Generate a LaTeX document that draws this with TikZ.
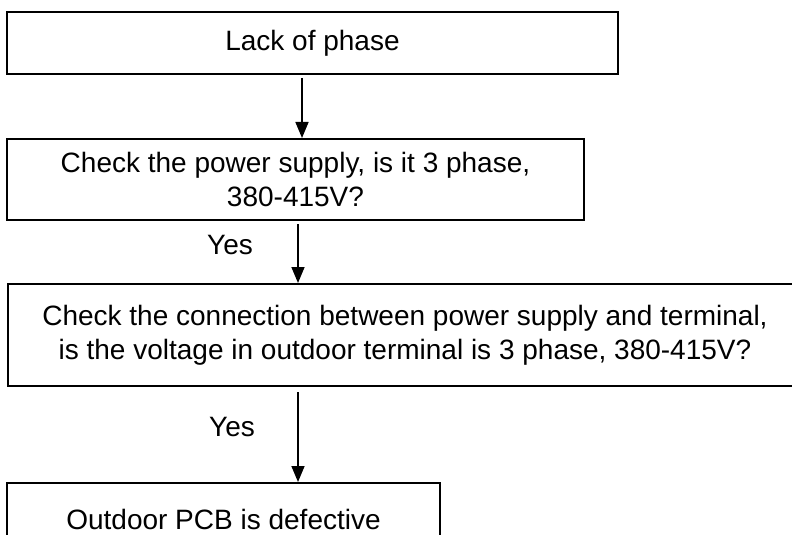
\documentclass[tikz,border=0pt]{standalone}
\usepackage{fontspec}
\setmainfont{Liberation Sans}
\usetikzlibrary{arrows.meta, calc}

\begin{document}
\begin{tikzpicture}[x=0.5pt, y=-0.5pt,
	flowbox/.style={draw=black, line width=1pt, align=center, inner sep=0pt,
		font=\fontsize{14}{17}\selectfont},
	flowarrow/.style={line width=0.8pt, shorten <=1.5pt,
		-{Triangle[width=6.5pt, length=8pt]}},
	answer/.style={font=\fontsize{14}{17}\selectfont}]

	\useasboundingbox (0,0) rectangle (792,535);

	% x of the two arrow lines
	\coordinate (ax1) at (302,0);
	\coordinate (ax2) at (298,0);

	\node[flowbox, minimum width=305.5pt, minimum height=31pt] (lack) at (312.5,43) {Lack of phase};
	\node[flowbox, minimum width=288.5pt, minimum height=40.5pt] (supply) at (295.5,179.5)
		{Check the power supply, is it 3 phase,\\380-415V?};
	\node[flowbox, minimum width=397pt, minimum height=51pt] (terminal) at (405,335)
		{Check the connection between power supply and terminal,\\is the voltage in outdoor terminal is 3 phase, 380-415V?};
	\node[flowbox, minimum width=216.5pt, minimum height=36pt] (pcb) at (223.5,519) {Outdoor PCB is defective};

	\draw[flowarrow] (lack.south -| ax1) -- (supply.north -| ax1);
	\draw[flowarrow] (supply.south -| ax2) -- (terminal.north -| ax2);
	\draw[flowarrow, shorten <=2.5pt] (terminal.south -| ax2) -- (pcb.north -| ax2);

	\node[answer] (yes1) at (230,245) {Yes};
	\node[answer] (yes2) at (232,427) {Yes};

\end{tikzpicture}
\end{document}
